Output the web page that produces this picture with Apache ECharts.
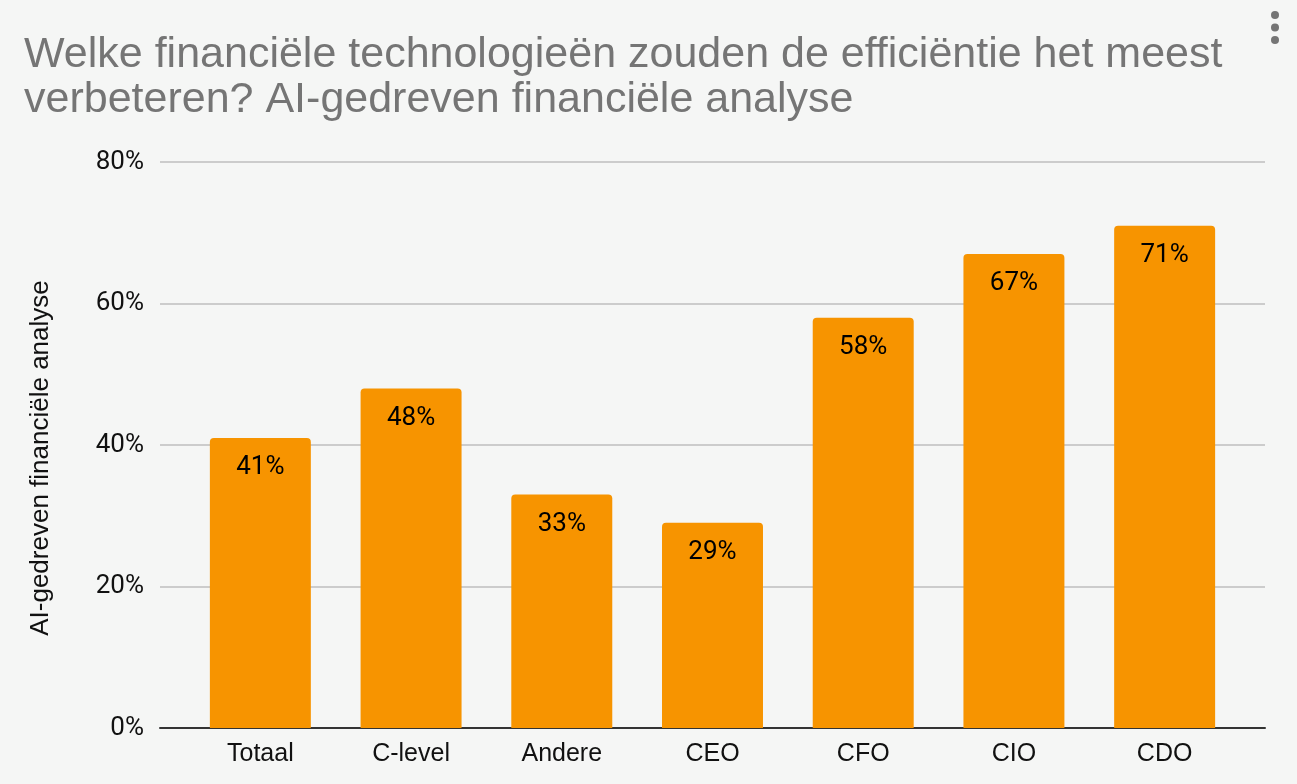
<!DOCTYPE html>
<html>
<head>
<meta charset="utf-8">
<script src="https://cdn.jsdelivr.net/npm/echarts@6/dist/echarts.min.js"></script>
<style>
html,body{margin:0;padding:0;background:#f5f6f5;}
#chart{width:1297px;height:784px;}
</style>
</head>
<body>
<div id="chart"></div>
<script>
const titleText = 'Welke financiële technologieën zouden de efficiëntie het meest\nverbeteren? AI-gedreven financiële analyse';
const yAxisName = 'AI-gedreven financiële analyse';
const categories = ['Totaal', 'C-level', 'Andere', 'CEO', 'CFO', 'CIO', 'CDO'];
const values = [41, 48, 33, 29, 58, 67, 71];
const yTicks = [0, 20, 40, 60, 80];

const yMin = yTicks[0], yMax = yTicks[yTicks.length - 1];
const chart = echarts.init(document.getElementById('chart'));
chart.setOption({
  backgroundColor: '#f5f6f5',
  animation: false,
  title: {
    text: titleText,
    left: 19,
    top: 28,
    textStyle: {
      fontFamily: 'Liberation Sans',
      fontSize: 43,
      fontWeight: 'normal',
      color: '#757575',
      lineHeight: 45
    }
  },
  graphic: [
    { type: 'circle', shape: { cx: 1275, cy: 15, r: 4 }, style: { fill: '#757575' } },
    { type: 'circle', shape: { cx: 1275, cy: 27.5, r: 4 }, style: { fill: '#757575' } },
    { type: 'circle', shape: { cx: 1275, cy: 40, r: 4 }, style: { fill: '#757575' } }
  ],
  grid: [
    { left: 160, right: 32, top: 162, bottom: 56 },
    { left: 185, right: 57, top: 162, bottom: 56 }
  ],
  xAxis: [
    {
      type: 'value', gridIndex: 0, min: 0, max: 1,
      axisLabel: { show: false }, axisTick: { show: false }, splitLine: { show: false },
      axisLine: { show: true, onZero: false, lineStyle: { color: '#333', width: 2 } }
    },
    {
      type: 'category', gridIndex: 1,
      data: categories,
      axisTick: { show: false },
      axisLine: { show: false },
      axisLabel: { fontFamily: 'Liberation Sans', fontSize: 25, color: '#111', margin: 14 }
    }
  ],
  yAxis: [
    {
      type: 'value', gridIndex: 0,
      min: yMin, max: yMax, interval: 20,
      name: yAxisName,
      nameLocation: 'middle',
      nameGap: 106,
      nameTextStyle: { fontFamily: 'Liberation Sans', fontSize: 26, color: '#111', padding: [0, 26, 0, 0] },
      axisLine: { show: false },
      axisTick: { show: false },
      splitLine: { lineStyle: { color: '#cccccc', width: 2 } },
      axisLabel: { fontFamily: 'Roboto', fontSize: 26, color: '#111', margin: 16, formatter: v => v + '%' }
    },
    {
      type: 'value', gridIndex: 1,
      min: yMin, max: yMax, interval: 20,
      axisLine: { show: false }, axisTick: { show: false },
      axisLabel: { show: false }, splitLine: { show: false }
    }
  ],
  series: [{
    type: 'bar',
    xAxisIndex: 1,
    yAxisIndex: 1,
    data: values,
    barCategoryGap: '33%',
    itemStyle: { color: '#f79400', borderRadius: [4, 4, 0, 0] },
    label: {
      show: true,
      position: 'insideTop',
      distance: 17,
      fontFamily: 'Roboto',
      fontSize: 26,
      color: '#000',
      formatter: p => p.value + '%'
    }
  }]
});
</script>
</body>
</html>
